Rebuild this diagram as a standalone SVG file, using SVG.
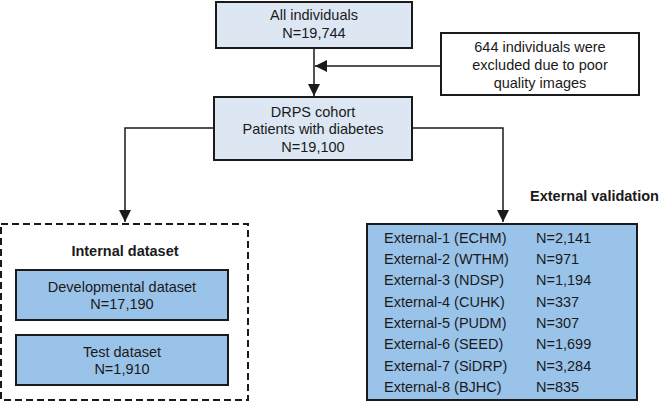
<svg xmlns="http://www.w3.org/2000/svg" width="659" height="402" viewBox="0 0 659 402">
<style>
text{font-family:"Liberation Sans",Arial,sans-serif;font-size:14.5px;fill:#1a1a1a}
.c{text-anchor:middle}
.b{font-weight:bold}
.light{fill:#dce7f3;stroke:#1a1a1a;stroke-width:2}
.dark{fill:#9ac3ea;stroke:#1a1a1a;stroke-width:2}
.plain{fill:#fff;stroke:#1a1a1a;stroke-width:2}
.line{fill:none;stroke:#1a1a1a;stroke-width:1.5}
</style>
<defs>
<marker id="ahs" viewBox="0 0 10 10" refX="10" refY="5" markerWidth="12" markerHeight="12" markerUnits="userSpaceOnUse" orient="auto">
<path d="M0,0 L10,5 L0,10 z" fill="#1a1a1a"/>
</marker>
</defs>
<g id="connectors">
<line class="line" x1="314" y1="48" x2="314" y2="96" marker-end="url(#ahs)"/>
<line class="line" x1="441" y1="66" x2="315" y2="66" marker-end="url(#ahs)"/>
<polyline class="line" points="214,128 125,128 125,222" marker-end="url(#ahs)"/>
<polyline class="line" points="412,128 503,128 503,222" marker-end="url(#ahs)"/>
</g>
<g id="all">
<rect class="light" x="216" y="2" width="196" height="46"/>
<text class="c" x="314" y="20">All individuals</text>
<text class="c" x="314" y="38">N=19,744</text>
</g>
<g id="excluded">
<rect class="plain" x="441" y="33" width="198" height="62"/>
<text class="c" x="540" y="52">644 individuals were</text>
<text class="c" x="540" y="70">excluded due to poor</text>
<text class="c" x="540" y="88">quality images</text>
</g>
<g id="drps">
<rect class="light" x="214" y="97" width="198" height="63"/>
<text class="c" x="313" y="117">DRPS cohort</text>
<text class="c" x="313" y="134">Patients with diabetes</text>
<text class="c" x="313" y="152">N=19,100</text>
</g>
<g id="internal">
<rect x="1" y="224" width="247" height="176" fill="none" stroke="#1a1a1a" stroke-width="2" stroke-dasharray="7,4"/>
<text class="c b" x="125" y="256">Internal dataset</text>
</g>
<g id="dev">
<rect class="dark" x="16" y="270" width="212" height="50"/>
<text class="c" x="122" y="292">Developmental dataset</text>
<text class="c" x="122" y="309">N=17,190</text>
</g>
<g id="test">
<rect class="dark" x="16" y="335" width="212" height="50"/>
<text class="c" x="122" y="357">Test dataset</text>
<text class="c" x="122" y="374">N=1,910</text>
</g>
<g id="external">
<text class="b" x="530" y="201">External validation</text>
<rect class="dark" x="367" y="224" width="270" height="176"/>
<text x="384" y="243">External-1 (ECHM)</text><text x="536" y="243">N=2,141</text>
<text x="384" y="264">External-2 (WTHM)</text><text x="536" y="264">N=971</text>
<text x="384" y="285">External-3 (NDSP)</text><text x="536" y="285">N=1,194</text>
<text x="384" y="307">External-4 (CUHK)</text><text x="536" y="307">N=337</text>
<text x="384" y="328">External-5 (PUDM)</text><text x="536" y="328">N=307</text>
<text x="384" y="349">External-6 (SEED)</text><text x="536" y="349">N=1,699</text>
<text x="384" y="371">External-7 (SiDRP)</text><text x="536" y="371">N=3,284</text>
<text x="384" y="392">External-8 (BJHC)</text><text x="536" y="392">N=835</text>
</g>
</svg>
